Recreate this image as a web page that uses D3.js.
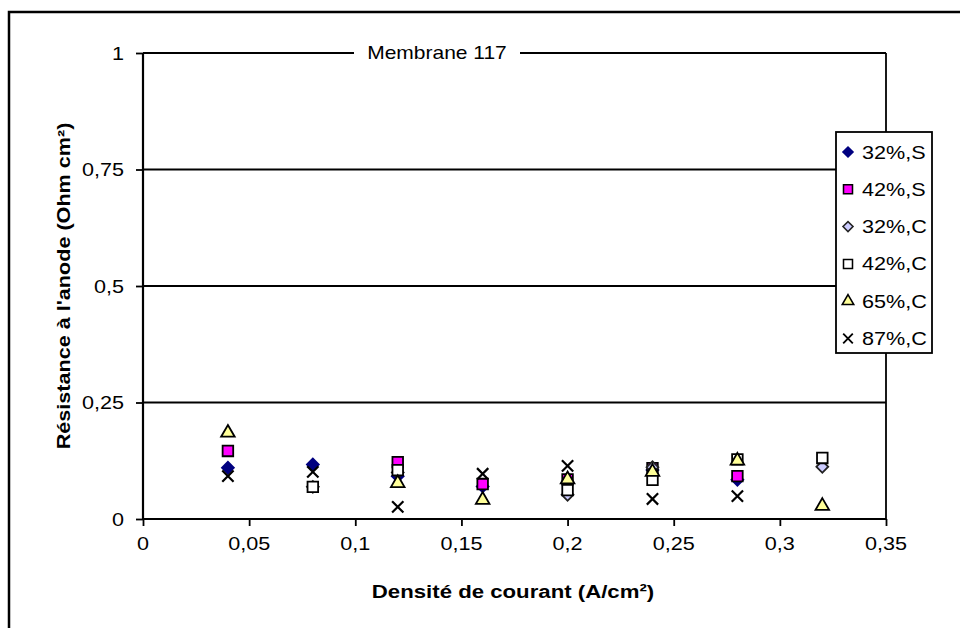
<!DOCTYPE html>
<html><head><meta charset="utf-8">
<script src="https://cdn.jsdelivr.net/npm/d3@7"></script>
<style>body{margin:0;background:#fff}svg{display:block}text{font-family:"Liberation Sans",Arial,sans-serif}</style>
</head><body><svg id="c" width="960" height="628"></svg>
<script>
const xValues = [0.04, 0.08, 0.12, 0.16, 0.20, 0.24, 0.28, 0.32];
const s32S = [0.110, 0.117, 0.092, 0.070, null, 0.105, 0.084, null];
const s42S = [0.146, null, 0.122, 0.075, 0.085, 0.109, 0.092, null];
const s32C = [null, 0.069, 0.100, null, 0.052, 0.111, null, 0.112];
const s42C = [null, 0.069, 0.105, null, 0.062, 0.084, 0.128, 0.131];
const s65C = [0.185, null, 0.077, 0.041, 0.085, 0.101, 0.125, 0.028];
const s87C = [0.092, 0.101, 0.026, 0.097, 0.114, 0.043, 0.049, null];
const seriesNames = ["32%,S", "42%,S", "32%,C", "42%,C", "65%,C", "87%,C"];
const xTicks = [0, 0.05, 0.1, 0.15, 0.2, 0.25, 0.3, 0.35];
const yTicks = [0, 0.25, 0.5, 0.75, 1];
const title = "Membrane 117";
const xTitle = "Densité de courant (A/cm²)";
const yTitle = "Résistance à l'anode (Ohm cm²)";

const series = [
  {name: seriesNames[0], values: s32S, shape: "diamond", fill: "#000080", stroke: "#000080"},
  {name: seriesNames[1], values: s42S, shape: "square", fill: "#ff00ff", stroke: "#000"},
  {name: seriesNames[2], values: s32C, shape: "diamond", fill: "#ccccff", stroke: "#222"},
  {name: seriesNames[3], values: s42C, shape: "square", fill: "#fff", stroke: "#000"},
  {name: seriesNames[4], values: s65C, shape: "triangle", fill: "#ffff99", stroke: "#000"},
  {name: seriesNames[5], values: s87C, shape: "x", fill: "none", stroke: "#000"}
];

const svg = d3.select("#c");
const L = 143, R = 886, T = 53, B = 519;
const x = d3.scaleLinear().domain([0, 0.35]).range([L, R]);
const y = d3.scaleLinear().domain([0, 1]).range([B, T]);
const fmt = d => String(+d.toFixed(2)).replace(".", ",");
const SX = 1.2;

function txt(g, s, px, py, size, anchor, bold, rot) {
  const gg = g.append("g").attr("transform", `translate(${px},${py})` + (rot ? ` rotate(${rot})` : ""));
  return gg.append("text").attr("transform", `scale(${SX},1)`).attr("text-anchor", anchor)
    .attr("font-size", size).attr("font-weight", bold ? "bold" : "normal").attr("fill", "#000").text(s);
}

// outer frame
svg.append("rect").attr("x", 9).attr("y", 12).attr("width", 1000).attr("height", 700)
  .attr("fill", "#fff").attr("stroke", "#000").attr("stroke-width", 2.5);

// gridlines
svg.append("g").selectAll("line").data(yTicks.filter(d => d > 0)).join("line")
  .attr("x1", L).attr("x2", R).attr("y1", d => y(d)).attr("y2", d => y(d))
  .attr("stroke", "#000").attr("stroke-width", 1.8);
// right border of plot
svg.append("line").attr("x1", R).attr("x2", R).attr("y1", T).attr("y2", B).attr("stroke", "#000").attr("stroke-width", 1.8);

// axes
const xAxis = svg.append("g").attr("transform", `translate(0,${B})`)
  .call(d3.axisBottom(x).tickValues(xTicks).tickSize(7).tickSizeOuter(0).tickFormat(""));
const yAxis = svg.append("g").attr("transform", `translate(${L},0)`)
  .call(d3.axisLeft(y).tickValues(yTicks).tickSize(7).tickSizeOuter(0).tickFormat(""));
[xAxis, yAxis].forEach(a => {
  a.select(".domain").attr("stroke", "#000").attr("stroke-width", 2.2);
  a.selectAll(".tick line").attr("stroke", "#000").attr("stroke-width", 1.8);
});
xAxis.select(".domain").attr("d", `M${L},0H${R}`);
yAxis.select(".domain").attr("d", `M0,${B}V${T}`);

const labels = svg.append("g");
xTicks.forEach(t => txt(labels, fmt(t), x(t), 550, 18, "middle"));
yTicks.forEach(t => txt(labels, fmt(t), 124, y(t) + 6.5, 18, "end"));

// title with background
svg.append("rect").attr("x", 354).attr("y", 44).attr("width", 166).attr("height", 18).attr("fill", "#fff");
txt(svg, title, 437, 59, 17.5, "middle");

// axis titles
txt(svg, xTitle, 513, 598, 18.5, "middle", true);
txt(svg, yTitle, 70, 286, 18, "middle", true, -90);

// markers
function symPath(shape) {
  if (shape === "square") return d3.symbol(d3.symbolSquare, 112)();
  if (shape === "diamond") return d3.symbol(d3.symbolSquare, 70)();
  if (shape === "triangle") return d3.symbol(d3.symbolTriangle, 80)();
  return d3.symbol(d3.symbolX, 85)();
}
function drawSym(g, s, px, py, k) {
  return g.append("path").attr("d", symPath(s.shape))
    .attr("transform", `translate(${px},${py}) scale(${k || 1})` + (s.shape === "diamond" ? " rotate(45)" : ""))
    .attr("fill", s.fill).attr("stroke", s.stroke).attr("stroke-width", s.shape === "x" ? 2.2 : 1.8);
}
const marks = svg.append("g");
series.forEach(s => {
  const pts = xValues.map((xv, i) => ({x: xv, y: s.values[i]})).filter(d => d.y != null);
  const g = marks.append("g");
  pts.forEach(d => drawSym(g, s, x(d.x), y(d.y)));
});

// legend
const lg = svg.append("g");
lg.append("rect").attr("x", 836).attr("y", 132).attr("width", 96).attr("height", 221)
  .attr("fill", "#fff").attr("stroke", "#000").attr("stroke-width", 1.8);
series.forEach((s, i) => {
  const cy = 152 + i * 37.3;
  drawSym(lg.append("g"), s, 848, cy, 0.85);
  txt(lg, s.name, 862, cy + 6.5, 18, "start");
});
</script></body></html>
